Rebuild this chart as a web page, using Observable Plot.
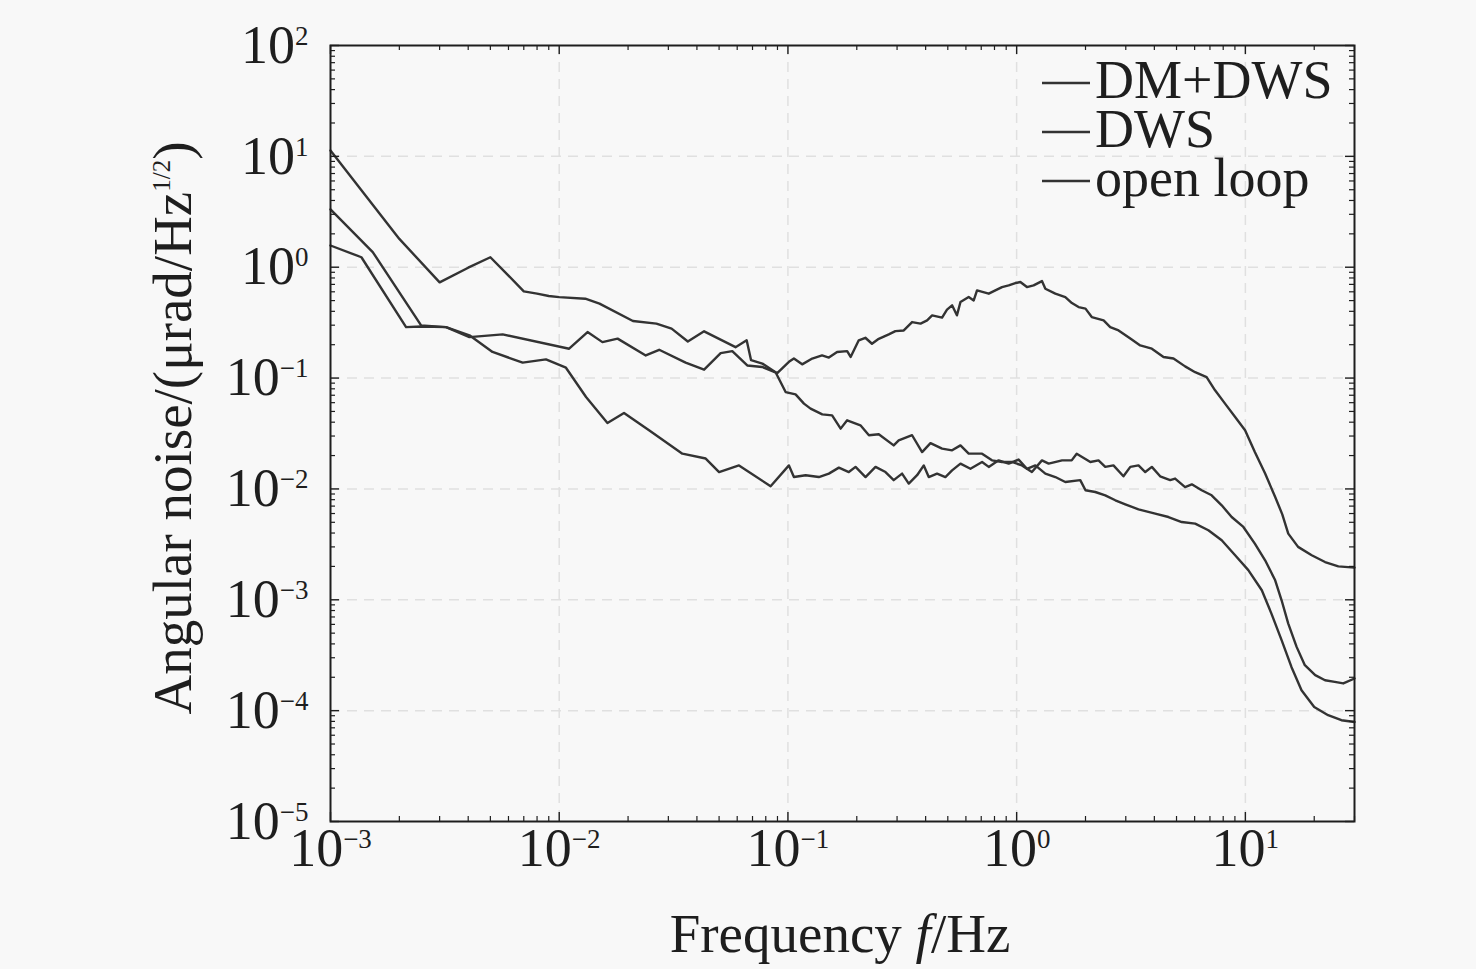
<!DOCTYPE html>
<html><head><meta charset="utf-8">
<script src="https://cdn.jsdelivr.net/npm/d3@7"></script>
<script src="https://cdn.jsdelivr.net/npm/@observablehq/plot@0.6"></script>
<style>
html,body{margin:0;padding:0;background:#f8f8f8;}
#chart{position:relative;width:1476px;height:969px;}
svg{display:block}
</style></head><body><div id="chart"></div>
<script>
// ---- data (Hz, µrad/Hz^1/2) ----
const dwsF = [1e-3,2e-3,3e-3,4e-3,5e-3,6e-3,7e-3,8e-3,9e-3,1e-2,1.3e-2,1.5e-2,2.1e-2,2.66e-2,3.1e-2,3.65e-2,4.3e-2,5.9e-2,6.6e-2,6.9e-2,7.73e-2,8.83e-2,9.77e-2,0.108,0.1175,0.1256,0.1413,0.156,0.17,0.1815,0.2075,0.226,0.2495,0.29,0.305,0.349,0.386,0.42,0.472,0.522,0.568,0.617,0.706,0.78,0.863,0.954,1.055,1.166,1.29,1.38,1.58,1.74,1.83,2.10,2.28,2.44,2.65,2.93,3.14,3.41,3.65,3.90,4.24,4.69,4.93,5.45,5.83,6.44,7.12,7.88,8.71,9.80,11.0,12.2,13.5,14.4,15.4,16.75,18.2,20.2,22.3,24.6,26.8,30];
const dwsV = [11.3,1.8,0.73,0.99,1.23,0.84,0.605,0.577,0.55,0.537,0.52,0.469,0.327,0.31,0.279,0.214,0.264,0.19,0.219,0.145,0.135,0.113,0.0748,0.0713,0.0588,0.053,0.0471,0.0461,0.035,0.0416,0.0375,0.0305,0.0311,0.0247,0.0274,0.0305,0.0215,0.0259,0.0231,0.0223,0.0247,0.0208,0.0208,0.0181,0.0175,0.0175,0.0163,0.0142,0.0181,0.0169,0.0181,0.0181,0.0208,0.0175,0.0181,0.0158,0.0163,0.013,0.0158,0.0163,0.0142,0.0158,0.013,0.012,0.0124,0.0104,0.011,0.00972,0.00876,0.00712,0.00558,0.00454,0.00321,0.00227,0.0015,0.00099,6.1e-4,3.76e-4,2.57e-4,2.09e-4,1.88e-4,1.82e-4,1.76e-4,1.95e-4];

const openF = [1e-3,1.365e-3,2.14e-3,2.49e-3,3.2e-3,4.05e-3,5.66e-3,1.105e-2,1.33e-2,1.545e-2,1.8e-2,2.39e-2,2.735e-2,3.57e-2,4.3e-2,5.08e-2,5.71e-2,6.64e-2,7.72e-2,8.98e-2,0.101,0.1062,0.1154,0.1277,0.141,0.151,0.164,0.1815,0.188,0.204,0.218,0.233,0.2495,0.276,0.295,0.321,0.349,0.38,0.406,0.427,0.472,0.496,0.522,0.548,0.568,0.617,0.649,0.671,0.755,0.807,0.863,0.923,0.987,1.038,1.109,1.186,1.29,1.335,1.476,1.632,1.744,1.865,2.0,2.13,2.40,2.565,2.79,3.14,3.47,3.90,4.385,4.85,5.45,6.03,6.77,7.37,8.15,9.02,9.97,11.0,12.2,13.5,14.5,15.4,17.0,19.5,22.3,25.5,30];
const openV = [1.57,1.23,0.288,0.292,0.288,0.234,0.248,0.184,0.26,0.211,0.227,0.16,0.18,0.138,0.119,0.168,0.175,0.13,0.126,0.111,0.14,0.15,0.133,0.15,0.16,0.153,0.172,0.175,0.155,0.219,0.231,0.204,0.226,0.248,0.265,0.269,0.32,0.31,0.331,0.368,0.351,0.414,0.453,0.368,0.485,0.538,0.502,0.618,0.577,0.618,0.662,0.686,0.72,0.735,0.662,0.686,0.75,0.64,0.577,0.538,0.475,0.437,0.423,0.355,0.331,0.288,0.269,0.227,0.197,0.184,0.155,0.15,0.1275,0.113,0.102,0.0775,0.0588,0.0446,0.0338,0.0215,0.01375,0.00846,0.0059,0.00395,0.003,0.00252,0.00219,0.002,0.00195];

const dmF = [1e-3,1.53e-3,2.49e-3,3.2e-3,4.05e-3,5.11e-3,6.92e-3,8.75e-3,1.07e-2,1.31e-2,1.625e-2,1.92e-2,2.47e-2,3.455e-2,4.37e-2,5.0e-2,6.11e-2,8.4e-2,0.101,0.1062,0.1195,0.1365,0.151,0.167,0.1846,0.1975,0.2184,0.2415,0.267,0.29,0.3155,0.3375,0.367,0.3926,0.4127,0.4487,0.488,0.522,0.568,0.628,0.706,0.755,0.834,0.923,1.02,1.109,1.207,1.335,1.476,1.632,1.897,2.0,2.207,2.44,2.70,2.985,3.41,4.035,4.61,5.27,6.03,6.89,7.88,9.02,10.3,11.8,13.0,14.4,15.9,17.6,20.0,23.0,26.3,30];
const dmV = [3.32,1.37,0.299,0.288,0.243,0.172,0.138,0.1476,0.124,0.0675,0.0393,0.0484,0.0338,0.0208,0.0188,0.0142,0.0163,0.01056,0.0163,0.0128,0.0133,0.0128,0.01375,0.01556,0.0142,0.0158,0.0128,0.0158,0.0142,0.012,0.01375,0.01117,0.0133,0.0163,0.0128,0.01375,0.0128,0.0147,0.0169,0.0152,0.0175,0.0158,0.0181,0.0169,0.0184,0.0152,0.0163,0.01375,0.0128,0.01154,0.012,0.00972,0.00938,0.00876,0.0079,0.00727,0.00655,0.00599,0.00558,0.00503,0.00486,0.00424,0.00344,0.00252,0.00185,0.00122,7.5e-4,4.32e-4,2.48e-4,1.53e-4,1.08e-4,9.1e-5,8.2e-5,7.9e-5];

const seriesNames = ["DM+DWS","DWS","open loop"];
const xMajor = [1e-3,1e-2,1e-1,1e0,1e1];
const yMajor = [1e-5,1e-4,1e-3,1e-2,1e-1,1e0,1e1,1e2];

// ---- build table ----
const rows = [];
[[seriesNames[0],dmF,dmV],[seriesNames[1],dwsF,dwsV],[seriesNames[2],openF,openV]].forEach(([name,f,v]) => {
  f.forEach((fi,i) => rows.push({series:name, f:fi, v:v[i]}));
});

const xMinor = [];
for (const d of xMajor) for (let k=2;k<=9;k++) { const t=d*k; if (t<=30) xMinor.push(t); }
const yMinor = [];
for (const d of yMajor.slice(0,-1)) for (let k=2;k<=9;k++) yMinor.push(d*k);

const W=1476,H=969,ML=330,MR=122,MT=45,MB=148;
const PW=W-ML-MR, PH=H-MT-MB;
const ink="#1e1e1e", lineC="#333333";
const expo = d => { const e=Math.round(Math.log10(d)); return "10^"+String(e).replace("-","\u2212"); };
const font="'Liberation Serif','Times New Roman',serif";

const chart = Plot.plot({
  width:W, height:H, marginLeft:ML, marginRight:MR, marginTop:MT, marginBottom:MB,
  style:{background:"transparent", fontFamily:font, color:ink},
  x:{type:"log", domain:[1e-3,30], axis:null},
  y:{type:"log", domain:[1e-5,1e2], axis:null},
  marks:[
    Plot.ruleX(xMajor.slice(1), {stroke:"#e0e0e0", strokeWidth:1.5, strokeDasharray:"10,7"}),
    Plot.ruleY(yMajor.slice(1,-1), {stroke:"#e0e0e0", strokeWidth:1.5, strokeDasharray:"10,7"}),
    Plot.line(rows, {x:"f", y:"v", z:"series", stroke:lineC, strokeWidth:2.4, strokeLinejoin:"round"}),
    Plot.ruleX(xMinor, {insetTop:PH-5, stroke:ink, strokeWidth:1.2}),
    Plot.ruleX(xMinor, {insetBottom:PH-5, stroke:ink, strokeWidth:1.2}),
    Plot.ruleX(xMajor, {insetTop:PH-9, stroke:ink, strokeWidth:1.4}),
    Plot.ruleX(xMajor, {insetBottom:PH-9, stroke:ink, strokeWidth:1.4}),
    Plot.ruleY(yMinor, {insetRight:PW-5, stroke:ink, strokeWidth:1.2}),
    Plot.ruleY(yMinor, {insetLeft:PW-5, stroke:ink, strokeWidth:1.2}),
    Plot.ruleY(yMajor, {insetRight:PW-9, stroke:ink, strokeWidth:1.4}),
    Plot.ruleY(yMajor, {insetLeft:PW-9, stroke:ink, strokeWidth:1.4}),
    Plot.frame({stroke:ink, strokeWidth:2}),
    Plot.text(xMajor, {x:d=>d, frameAnchor:"bottom", dy:44, text:expo, fontSize:54, fill:ink}),
    Plot.text(yMajor, {y:d=>d, frameAnchor:"left", dx:-22, textAnchor:"end", text:expo, fontSize:54, fill:ink})
  ]
});
document.getElementById("chart").appendChild(chart);

const svg = d3.select(chart);
svg.selectAll("text").each(function(){
  const m = (this.textContent||"").match(/^10\^(.+)$/);
  if (!m) return;
  const el = d3.select(this);
  el.text("10");
  el.append("tspan").attr("dy",-18).attr("font-size",27).text(m[1]);
});

// axis titles
const yt = svg.append("text")
  .attr("transform","translate(191,428) rotate(-90)")
  .attr("text-anchor","middle").attr("font-family",font).attr("font-size",55).attr("fill",ink);
yt.append("tspan").text("Angular noise/(\u03bcrad/Hz");
yt.append("tspan").attr("font-size",25).attr("dy",-21).text("1/2");
yt.append("tspan").attr("dy",21).text(")");

const xt = svg.append("text")
  .attr("x",840).attr("y",952).attr("text-anchor","middle")
  .attr("font-family",font).attr("font-size",55).attr("fill",ink);
xt.append("tspan").text("Frequency ");
xt.append("tspan").attr("font-style","italic").text("f");
xt.append("tspan").text("/Hz");

// legend
const lg = svg.append("g");
seriesNames.forEach((name,i) => {
  const yc = 83 + i*49;
  lg.append("line").attr("x1",1042).attr("x2",1090).attr("y1",yc).attr("y2",yc)
    .attr("stroke",lineC).attr("stroke-width",2.4);
  lg.append("text").attr("x",1095).attr("y",yc+15).attr("text-anchor","start")
    .attr("font-family",font).attr("font-size",54).attr("fill",ink).text(name);
});
</script></body></html>
